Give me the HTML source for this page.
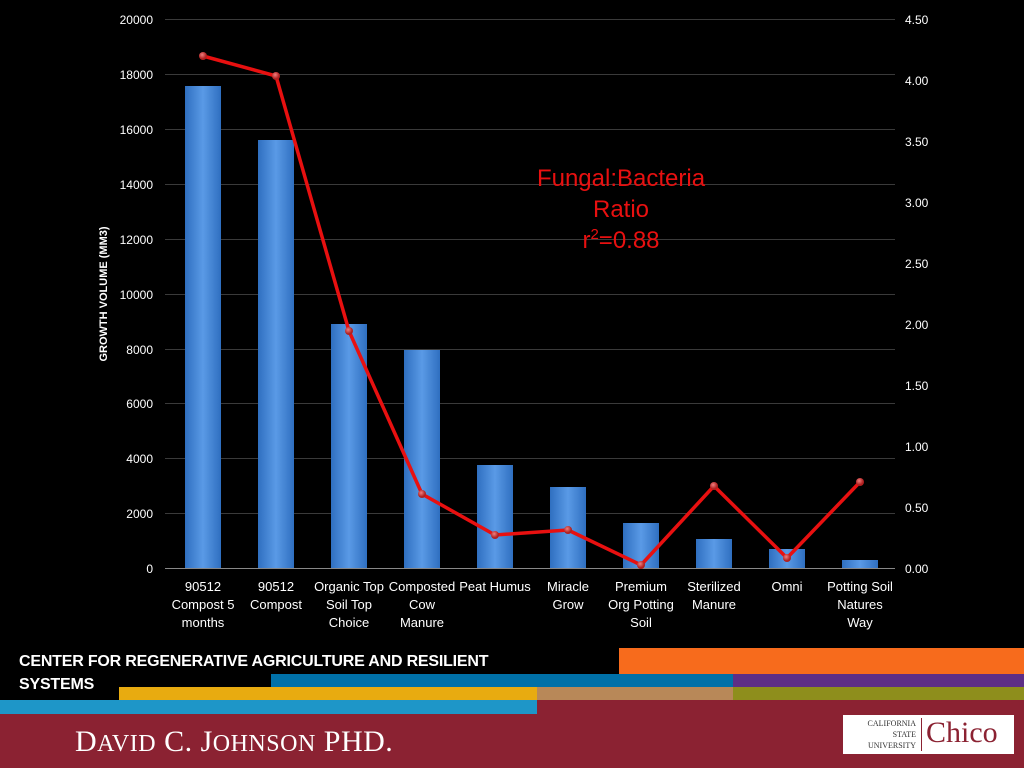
<!DOCTYPE html>
<html><head><style>
body{margin:0;background:#000;width:1024px;height:768px;overflow:hidden;position:relative;font-family:"Liberation Sans",sans-serif}
.b{position:absolute}
</style></head><body>
<svg class="b" style="left:0;top:0" width="1024" height="640" font-family="Liberation Sans, sans-serif">
<defs><linearGradient id="g" x1="0" x2="1"><stop offset="0" stop-color="#2f6fc0"/><stop offset="0.5" stop-color="#5a9ae6"/><stop offset="1" stop-color="#2f6fc0"/></linearGradient>
<radialGradient id="m" cx="0.4" cy="0.35"><stop offset="0" stop-color="#f08080"/><stop offset="1" stop-color="#b02020"/></radialGradient></defs>
<g stroke="#3a3a3a" stroke-width="1">
<line x1="165" x2="895" y1="19.5" y2="19.5"/><line x1="165" x2="895" y1="74.5" y2="74.5"/><line x1="165" x2="895" y1="129.5" y2="129.5"/><line x1="165" x2="895" y1="184.5" y2="184.5"/><line x1="165" x2="895" y1="239.5" y2="239.5"/><line x1="165" x2="895" y1="294.5" y2="294.5"/><line x1="165" x2="895" y1="349.5" y2="349.5"/><line x1="165" x2="895" y1="403.5" y2="403.5"/><line x1="165" x2="895" y1="458.5" y2="458.5"/><line x1="165" x2="895" y1="513.5" y2="513.5"/>
</g>
<line x1="165" x2="895" y1="568.5" y2="568.5" stroke="#888"/>
<g fill="url(#g)">
<rect x="185" y="86" width="36" height="482"/><rect x="258" y="140" width="36" height="428"/><rect x="331" y="324" width="36" height="244"/><rect x="404" y="350" width="36" height="218"/><rect x="477" y="465" width="36" height="103"/><rect x="550" y="487" width="36" height="81"/><rect x="623" y="523" width="36" height="45"/><rect x="696" y="539" width="36" height="29"/><rect x="769" y="549" width="36" height="19"/><rect x="842" y="560" width="36" height="8"/>
</g>
<polyline fill="none" stroke="#e81010" stroke-width="3.5" stroke-linejoin="round" points="203,56 276,76 349,331 422,494 495,535 568,530 641,565 714,486 787,558 860,482"/>
<g fill="url(#m)"><circle cx="203" cy="56" r="4"/><circle cx="276" cy="76" r="4"/><circle cx="349" cy="331" r="4"/><circle cx="422" cy="494" r="4"/><circle cx="495" cy="535" r="4"/><circle cx="568" cy="530" r="4"/><circle cx="641" cy="565" r="4"/><circle cx="714" cy="486" r="4"/><circle cx="787" cy="558" r="4"/><circle cx="860" cy="482" r="4"/></g>
<g fill="#fff" font-size="12" text-anchor="end">
<text x="153" y="24">20000</text><text x="153" y="79">18000</text><text x="153" y="134">16000</text><text x="153" y="189">14000</text><text x="153" y="244">12000</text><text x="153" y="299">10000</text><text x="153" y="354">8000</text><text x="153" y="408">6000</text><text x="153" y="463">4000</text><text x="153" y="518">2000</text><text x="153" y="573">0</text>
</g>
<g fill="#fff" font-size="12">
<text x="905" y="24">4.50</text><text x="905" y="85">4.00</text><text x="905" y="146">3.50</text><text x="905" y="207">3.00</text><text x="905" y="268">2.50</text><text x="905" y="329">2.00</text><text x="905" y="390">1.50</text><text x="905" y="451">1.00</text><text x="905" y="512">0.50</text><text x="905" y="573">0.00</text>
</g>
<text transform="translate(107,294) rotate(-90)" fill="#fff" font-size="11" font-weight="bold" text-anchor="middle">GROWTH VOLUME (MM3)</text>
<g fill="#fff" font-size="13" text-anchor="middle">
<text x="203" y="591">90512</text><text x="203" y="609">Compost 5</text><text x="203" y="627">months</text>
<text x="276" y="591">90512</text><text x="276" y="609">Compost</text>
<text x="349" y="591">Organic Top</text><text x="349" y="609">Soil Top</text><text x="349" y="627">Choice</text>
<text x="422" y="591">Composted</text><text x="422" y="609">Cow</text><text x="422" y="627">Manure</text>
<text x="495" y="591">Peat Humus</text>
<text x="568" y="591">Miracle</text><text x="568" y="609">Grow</text>
<text x="641" y="591">Premium</text><text x="641" y="609">Org Potting</text><text x="641" y="627">Soil</text>
<text x="714" y="591">Sterilized</text><text x="714" y="609">Manure</text>
<text x="787" y="591">Omni</text>
<text x="860" y="591">Potting Soil</text><text x="860" y="609">Natures</text><text x="860" y="627">Way</text>
</g>
<g fill="#e81010" font-size="24" text-anchor="middle">
<text x="621" y="186">Fungal:Bacteria</text><text x="621" y="217">Ratio</text><text x="621" y="248">r<tspan font-size="15" dy="-9">2</tspan><tspan dy="9">=0.88</tspan></text>
</g>
</svg>
<div class="b" style="left:619px;top:648px;width:405px;height:26px;background:#f76b1c"></div>
<div class="b" style="left:271px;top:674px;width:462px;height:13px;background:#0070a8"></div>
<div class="b" style="left:733px;top:674px;width:291px;height:13px;background:#5e2e86"></div>
<div class="b" style="left:119px;top:687px;width:418px;height:13px;background:#e8ab10"></div>
<div class="b" style="left:537px;top:687px;width:196px;height:13px;background:#b88858"></div>
<div class="b" style="left:733px;top:687px;width:291px;height:13px;background:#8e8e1c"></div>
<div class="b" style="left:0;top:700px;width:537px;height:14px;background:#1e96c8"></div>
<div class="b" style="left:537px;top:700px;width:487px;height:14px;background:#8b2232"></div>
<div class="b" style="left:0;top:714px;width:1024px;height:54px;background:#8b2232"></div>
<div class="b" style="left:19px;top:650px;color:#fff;font-weight:bold;font-size:16px;line-height:23px;width:520px;letter-spacing:-0.2px">CENTER FOR REGENERATIVE AGRICULTURE AND RESILIENT SYSTEMS</div>
<div class="b" style="left:75px;top:725px;color:#fff;font-family:'Liberation Serif',serif;font-size:30px;letter-spacing:0.5px">D<span style="font-size:24px">AVID</span> C. J<span style="font-size:24px">OHNSON</span> PHD.</div>
<div class="b" style="left:843px;top:715px;width:171px;height:39px;background:#fff"></div>
<div class="b" style="left:846px;top:718px;width:70px;font-family:'Liberation Serif',serif;font-size:8px;line-height:11px;text-align:right;color:#333">CALIFORNIA<br>STATE<br>UNIVERSITY</div>
<div class="b" style="left:921px;top:718px;width:1px;height:33px;background:#8b2232"></div>
<div class="b" style="left:926px;top:716px;font-family:'Liberation Serif',serif;font-size:30px;color:#8b2232">Chico</div>
</body></html>
